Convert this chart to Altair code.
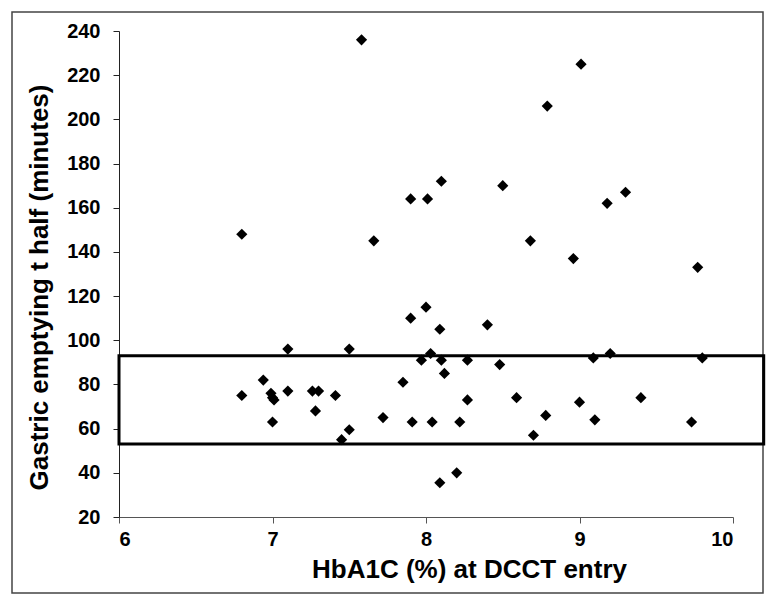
import altair as alt
import pandas as pd

# HbA1C (%) values and gastric emptying t-half (minutes)
hba1c = [7.58, 6.80, 7.66, 7.90, 8.01, 8.10, 9.01, 8.79, 8.50, 9.30, 9.18, 8.68, 8.96, 9.77,
         7.10, 7.50, 7.90, 8.00, 8.09, 8.03, 7.97, 8.10, 6.94, 6.80, 6.99, 7.00, 7.01, 7.00,
         7.10, 7.26, 7.30, 7.28, 7.41, 7.45, 7.50, 7.72, 7.85, 7.91, 8.04, 8.09, 8.40, 8.27,
         8.48, 8.12, 9.09, 9.20, 9.80, 8.27, 8.59, 9.00, 9.40, 8.78, 9.10, 9.73, 8.22, 8.70,
         8.20]
t_half = [236, 148, 145, 164, 164, 172, 225, 206, 170, 167, 162, 145, 137, 133,
          96, 96, 110, 115, 105, 94, 91, 91, 82, 75, 76, 74, 73, 63,
          77, 77, 77, 68, 75, 55, 59.5, 65, 81, 63, 63, 35.5, 107, 91,
          89, 85, 92, 94, 92, 73, 74, 72, 74, 66, 64, 63, 63, 57,
          40]

# Normal range box
box_x = [6.0]
box_x2 = [10.2]
box_y = [53]
box_y2 = [93]

x_ticks = [6, 7, 8, 9, 10]
y_ticks = list(range(20, 241, 20))

pts = pd.DataFrame({"x": hba1c, "y": t_half})
box = pd.DataFrame({"x": box_x, "x2": box_x2, "y": box_y, "y2": box_y2})
one = pd.DataFrame({"a": [0]})

FONT = "Liberation Sans"

xscale = alt.Scale(domain=[6, 10], nice=False, zero=False)
yscale = alt.Scale(domain=[20, 240], nice=False, zero=False)

xaxis = alt.Axis(values=x_ticks, format="d", grid=False,
                 labelFont=FONT, labelFontWeight="bold", labelFontSize=20, labelColor="black",
                 labelPadding=6, tickSize=6, tickColor="#555", domainColor="#555",
                 title="HbA1C (%) at DCCT entry", titleFont=FONT, titleFontWeight="bold",
                 titleFontSize=26, titleColor="black", titleX=350, titleY=60,
                 titleAlign="center", titleBaseline="alphabetic")
yaxis = alt.Axis(values=y_ticks, format="d", grid=False,
                 labelFont=FONT, labelFontWeight="bold", labelFontSize=20, labelColor="black",
                 labelPadding=13, tickSize=6, tickColor="#222", domainColor="#222",
                 title="Gastric emptying t half (minutes)", titleFont=FONT, titleFontWeight="bold",
                 titleFontSize=26, titleColor="black", titleAngle=270, titleX=-80, titleY=256,
                 titleAlign="center", titleBaseline="middle")

border = alt.Chart(one).mark_rect(fill=None, stroke="#444", strokeWidth=1.5).encode(
    x=alt.value(-107), x2=alt.value(644), y=alt.value(-19), y2=alt.value(562)
)

boxes = alt.Chart(box).mark_rect(fill=None, stroke="black", strokeWidth=3).encode(
    x=alt.X("x:Q", scale=xscale, axis=xaxis),
    x2="x2:Q",
    y=alt.Y("y:Q", scale=yscale, axis=yaxis),
    y2="y2:Q",
)

points = alt.Chart(pts).mark_point(shape="diamond", filled=True, color="black", size=125, opacity=1).encode(
    x=alt.X("x:Q", scale=xscale, axis=xaxis),
    y=alt.Y("y:Q", scale=yscale, axis=yaxis),
)

chart = alt.layer(border, boxes, points).properties(
    width=614, height=486,
    autosize=alt.AutoSizeParams(type="none"),
    padding={"left": 111, "top": 23, "right": 36, "bottom": 82},
    background="white",
).configure_view(stroke=None)

chart.save("out.html", embed_options={"renderer": "svg", "actions": False})
